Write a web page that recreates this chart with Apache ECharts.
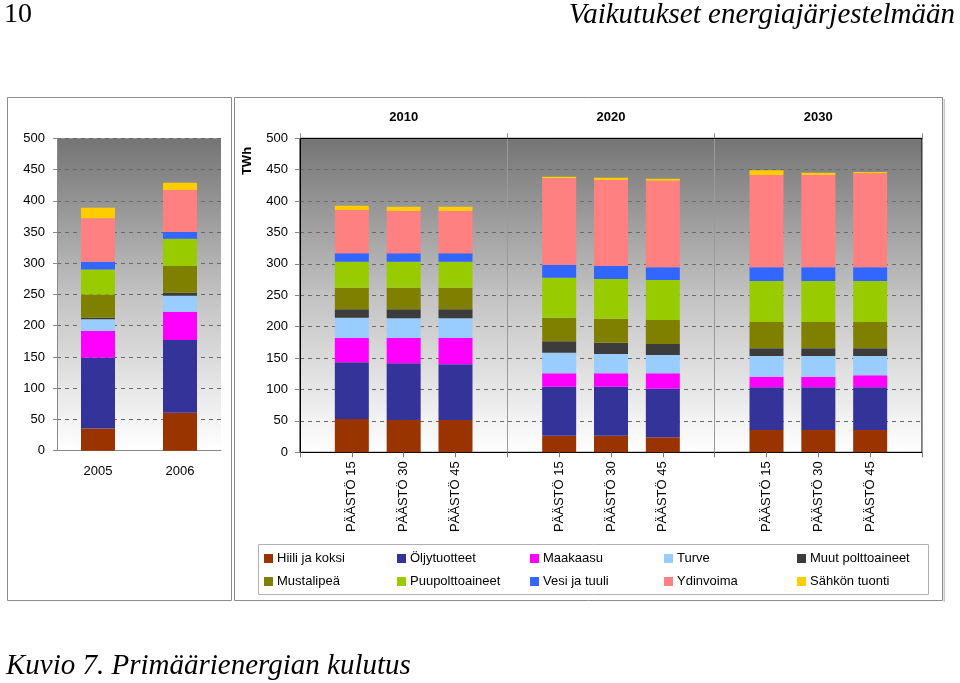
<!DOCTYPE html>
<html>
<head>
<meta charset="utf-8">
<script src="https://cdn.jsdelivr.net/npm/echarts@6/dist/echarts.min.js"></script>
<style>html,body{margin:0;padding:0;background:#fff;}#c{width:960px;height:683px;}</style>
</head>
<body>
<div id="c"></div>
<script>
// ---- data ----
const categoriesLeft = ['2005', '2006'];
const periods = ['2010', '2020', '2030'];
const scenarioLabels = ['PÄÄSTÖ 15', 'PÄÄSTÖ 30', 'PÄÄSTÖ 45'];
const yTicks = [0, 50, 100, 150, 200, 250, 300, 350, 400, 450, 500];
const seriesNames = ['Hiili ja koksi', 'Öljytuotteet', 'Maakaasu', 'Turve', 'Muut polttoaineet',
                     'Mustalipeä', 'Puupolttoaineet', 'Vesi ja tuuli', 'Ydinvoima', 'Sähkön tuonti'];
// historical (2005, 2006)
const hiiliHist  = [35.7, 60.8];
const oljyHist   = [113.1, 116.3];
const kaasuHist  = [42.7, 45.4];
const turveHist  = [18.7, 25.6];
const muutHist   = [2.7, 4.8];
const mustaHist  = [37.3, 42.7];
const puuHist    = [40.0, 43.7];
const vesiHist   = [12.3, 10.7];
const ydinHist   = [69.4, 67.2];
const tuontiHist = [17.1, 11.7];
// scenarios: 2010 (15,30,45), 2020 (15,30,45), 2030 (15,30,45)
const hiiliScen  = [53.0, 51.4, 51.4, 26.5, 26.5, 23.9, 35.5, 35.5, 35.5];
const oljyScen   = [90.3, 90.3, 88.7, 78.0, 78.0, 77.4, 68.0, 68.0, 68.0];
const kaasuScen  = [38.7, 40.3, 41.9, 21.3, 21.3, 24.5, 16.9, 16.9, 19.1];
const turveScen  = [32.4, 31.4, 31.4, 32.8, 30.7, 29.1, 32.9, 32.9, 30.7];
const muutScen   = [13.3, 14.3, 14.3, 18.2, 18.0, 17.6, 12.3, 12.3, 12.3];
const mustaScen  = [34.4, 34.4, 34.4, 37.6, 38.3, 38.2, 41.9, 41.9, 41.9];
const puuScen    = [41.4, 41.4, 41.4, 63.6, 63.2, 63.7, 65.3, 65.3, 65.3];
const vesiScen   = [13.3, 13.3, 13.3, 20.2, 20.7, 20.2, 21.8, 21.8, 21.8];
const ydinScen   = [69.0, 67.4, 67.4, 138.1, 136.9, 137.9, 147.0, 147.0, 149.7];
const tuontiScen = [6.9, 6.9, 6.9, 2.6, 3.7, 3.2, 7.4, 3.6, 2.0];

const histData = [hiiliHist, oljyHist, kaasuHist, turveHist, muutHist, mustaHist, puuHist, vesiHist, ydinHist, tuontiHist];
const scenData = [hiiliScen, oljyScen, kaasuScen, turveScen, muutScen, mustaScen, puuScen, vesiScen, ydinScen, tuontiScen];
const colors = ['#993300', '#333399', '#FF00FF', '#99CCFF', '#3C3C3C',
                '#808000', '#99CC00', '#3366FF', '#FF8080', '#FFCC00'];

// build right-hand category axis: blank slot, 3 scenarios, blank, ...
const rightCats = [''];
periods.forEach(() => { scenarioLabels.forEach(s => rightCats.push(s)); rightCats.push(''); });
function spread(arr) {
  const out = [null];
  for (let p = 0; p < periods.length; p++) {
    for (let s = 0; s < scenarioLabels.length; s++) out.push(arr[p * scenarioLabels.length + s]);
    out.push(null);
  }
  return out;
}

const bg = {type: 'linear', x: 0, y: 0, x2: 0, y2: 1,
  colorStops: [{offset: 0, color: '#747474'}, {offset: 0.5, color: '#c2c2c2'}, {offset: 1, color: '#ffffff'}]};
const FONT = 'Liberation Sans';

const series = [];
seriesNames.forEach((n, i) => {
  series.push({name: n, type: 'bar', stack: 'hist', xAxisIndex: 0, yAxisIndex: 0,
    barWidth: 34, data: histData[i], itemStyle: {color: colors[i]}, silent: true});
});
seriesNames.forEach((n, i) => {
  series.push({name: n, type: 'bar', stack: 'scen', xAxisIndex: 1, yAxisIndex: 1,
    barWidth: 34, data: spread(scenData[i]), itemStyle: {color: colors[i]}, silent: true});
});

const legendCols = [264, 397, 530, 664, 797];
const legends = legendCols.map((x, c) => ({
  left: x, top: 552, orient: 'vertical', itemGap: 10, itemWidth: 9, itemHeight: 9,
  icon: 'rect', selectedMode: false, padding: 0,
  textStyle: {fontFamily: FONT, fontSize: 13, color: '#000', padding: [0, 0, 0, -1]},
  data: [seriesNames[c], seriesNames[c + 5]]
}));

const yAxisCommon = {
  type: 'value', min: 0, max: 500, interval: 50,
  axisTick: {show: true, length: 4},
  axisLabel: {fontFamily: FONT, fontSize: 13, color: '#000', margin: 12,
    formatter: v => (yTicks.indexOf(v) >= 0 ? String(v) : '')},
  splitLine: {show: true, lineStyle: {color: '#6a6a6a', type: [4, 4], width: 1}}
};

const option = {
  animation: false,
  color: colors,
  legend: legends,
  grid: [
    {left: 57, top: 138.3, width: 164, height: 312.4, show: true, borderWidth: 0, backgroundColor: bg},
    {left: 300, top: 138.3, width: 622, height: 314, show: true, borderWidth: 1, borderColor: '#000', backgroundColor: bg}
  ],
  xAxis: [
    {gridIndex: 0, type: 'category', data: categoriesLeft, boundaryGap: true,
     axisLine: {lineStyle: {color: '#888'}}, axisTick: {length: 4, lineStyle: {color: '#888'}},
     axisLabel: {fontFamily: FONT, fontSize: 13, color: '#000', margin: 14}},
    {gridIndex: 1, type: 'category', data: rightCats, boundaryGap: false,
     axisLine: {lineStyle: {color: '#000'}}, axisTick: {length: 5, interval: 0, lineStyle: {color: '#777'}},
     axisLabel: {fontFamily: FONT, fontSize: 13, color: '#000', rotate: 90, interval: 0, margin: 9}},
    {gridIndex: 1, type: 'category', position: 'top', data: periods, boundaryGap: true,
     axisLine: {show: true, lineStyle: {color: '#000'}},
     axisTick: {show: true, length: 5, lineStyle: {color: '#888'}},
     axisLabel: {fontFamily: FONT, fontSize: 13, fontWeight: 'bold', color: '#000', margin: 14},
     splitLine: {show: true, lineStyle: {color: '#9a9a9a', width: 1}}}
  ],
  yAxis: [
    Object.assign({gridIndex: 0, axisLine: {show: true, lineStyle: {color: '#888'}}}, yAxisCommon,
      {axisTick: {show: true, length: 4, lineStyle: {color: '#888'}}}),
    Object.assign({gridIndex: 1, axisLine: {show: true, lineStyle: {color: '#000'}}}, yAxisCommon,
      {axisTick: {show: true, length: 5, lineStyle: {color: '#888'}}})
  ],
  graphic: [
    {type: 'rect', shape: {x: 7.5, y: 97.5, width: 224, height: 503}, style: {fill: 'none', stroke: '#8c8c8c', lineWidth: 1}, z: -10},
    {type: 'rect', shape: {x: 234.5, y: 97.5, width: 708, height: 503}, style: {fill: 'none', stroke: '#8c8c8c', lineWidth: 1}, z: -10},
    {type: 'rect', shape: {x: 943.5, y: 99, width: 1.5, height: 503}, style: {fill: '#c8c8c8'}, z: -10},
    {type: 'rect', shape: {x: 258.5, y: 544.5, width: 670, height: 50}, style: {fill: 'none', stroke: '#b0b0b0', lineWidth: 1}, z: -10},
    {type: 'text', x: 247, y: 161, rotation: Math.PI / 2,
     style: {text: 'TWh', fontFamily: FONT, fontSize: 13, fontWeight: 'bold', fill: '#000', align: 'center', verticalAlign: 'middle'}},
    {type: 'text', x: 4, y: 15,
     style: {text: '10', fontFamily: 'Liberation Serif', fontSize: 28, fill: '#000', align: 'left', verticalAlign: 'middle'}},
    {type: 'text', x: 955, y: 15,
     style: {text: 'Vaikutukset energiajärjestelmään', fontFamily: 'Liberation Serif', fontStyle: 'italic', fontSize: 29, fill: '#000', align: 'right', verticalAlign: 'middle'}},
    {type: 'text', x: 6, y: 666,
     style: {text: 'Kuvio 7. Primäärienergian kulutus', fontFamily: 'Liberation Serif', fontStyle: 'italic', fontSize: 29, fill: '#000', align: 'left', verticalAlign: 'middle'}}
  ],
  series: series
};

const chart = echarts.init(document.getElementById('c'), null, {renderer: 'canvas'});
chart.setOption(option);
</script>
</body>
</html>
